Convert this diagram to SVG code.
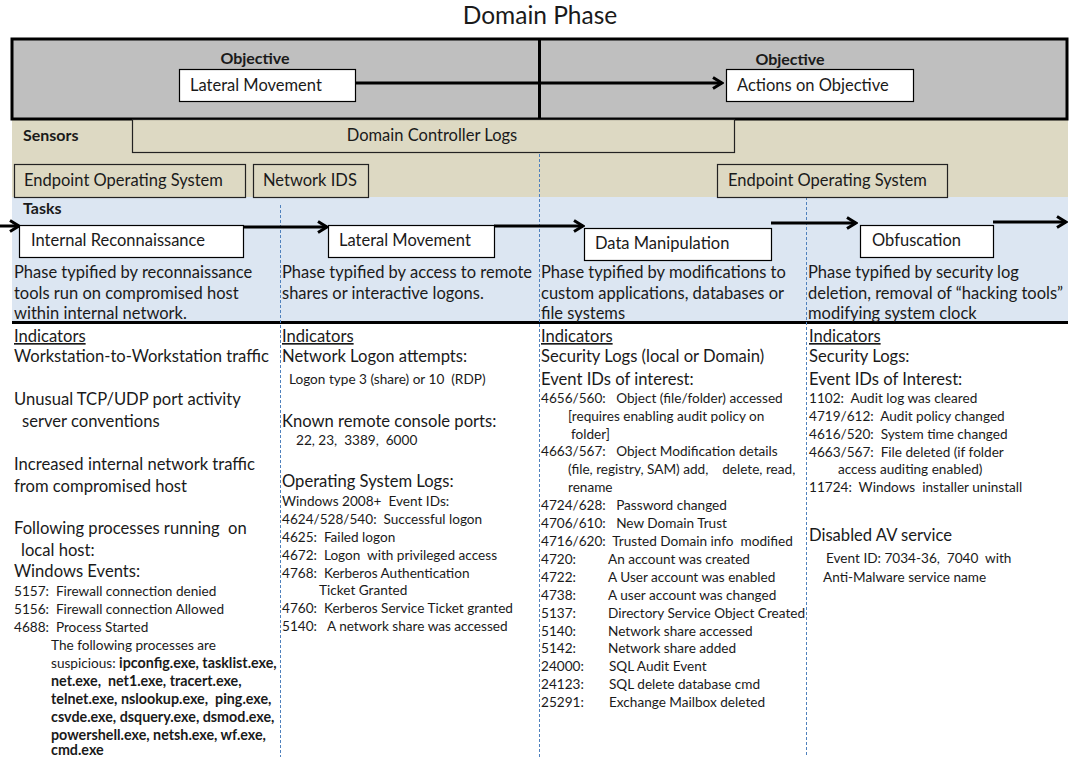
<svg xmlns="http://www.w3.org/2000/svg" width="1075" height="757" viewBox="0 0 1075 757">
  <style>
    text { font-family: Lato, "Open Sans", "Liberation Sans", sans-serif; fill: #1a1a1a; white-space: pre; }
    .title { font-size: 24.5px; }
    .hdr { font-size: 16px; font-weight: bold; }
    .box { fill: #ffffff; stroke: #000000; stroke-width: 1.2; }
    .sbox { fill: #ddd9c3; stroke: #222222; stroke-width: 1.2; }
    .boxtxt { font-size: 16.5px; }
    .desc { font-size: 16.5px; }
    .big { font-size: 16.6px; }
    .small { font-size: 13.6px; }
    .u { text-decoration: underline; }
    .b { font-weight: bold; font-size: 14.3px; }
    .flow { stroke: #000000; stroke-width: 3; fill: none; }
    .guide { stroke: #4f81bd; stroke-width: 1; stroke-dasharray: 3 2; fill: none; }
  </style>
  <defs>
    <marker id="chev" markerUnits="userSpaceOnUse" markerWidth="14" markerHeight="14" viewBox="0 0 14 14" refX="12" refY="7" orient="auto">
      <path d="M3,1.5 L12,7 L3,12.5" fill="none" stroke="#000000" stroke-width="3"/>
    </marker>
  </defs>

  <rect width="1075" height="757" fill="#ffffff"/>

  <!-- title -->
  <text class="title" x="540" y="24" text-anchor="middle">Domain Phase</text>

  <!-- bands -->
  <g id="bands">
    <rect x="12" y="119" width="1056" height="78" fill="#ddd9c3"/>
    <rect x="12" y="197" width="1056" height="125" fill="#dce6f2"/>
    <rect x="12" y="39" width="1055" height="80" fill="#bfbfbf" stroke="#000000" stroke-width="3"/>
    <line x1="539.5" y1="39" x2="539.5" y2="119" stroke="#000000" stroke-width="3"/>
    <line x1="12" y1="322.5" x2="1068" y2="322.5" stroke="#000000" stroke-width="3"/>
  </g>

  <!-- column guides -->
  <g id="guides">
    <line class="guide" x1="280.5" y1="205" x2="280.5" y2="757"/>
    <line class="guide" x1="539.5" y1="154" x2="539.5" y2="757"/>
    <line class="guide" x1="806.5" y1="197" x2="806.5" y2="757"/>
  </g>

  <!-- objectives -->
  <g id="objective-left">
    <text class="hdr" x="255" y="64" text-anchor="middle">Objective</text>
    <rect class="box" x="179.5" y="69.5" width="176" height="32"/>
    <text class="boxtxt" x="190" y="91">Lateral Movement</text>
  </g>
  <g id="objective-right">
    <text class="hdr" x="790" y="65" text-anchor="middle">Objective</text>
    <rect class="box" x="726.5" y="69.5" width="187" height="32"/>
    <text class="boxtxt" x="737" y="91">Actions on Objective</text>
  </g>

  <!-- sensors -->
  <g id="sensors">
    <text class="hdr" x="23" y="141">Sensors</text>
    <rect class="sbox" x="132.5" y="119.5" width="602" height="33"/>
    <text class="boxtxt" x="432" y="141" text-anchor="middle">Domain Controller Logs</text>
  </g>
  <g id="sensor-endpoint-left">
    <rect class="sbox" x="14.5" y="164.5" width="231" height="33"/>
    <text class="boxtxt" x="24" y="186">Endpoint Operating System</text>
  </g>
  <g id="sensor-nids">
    <rect class="sbox" x="253.5" y="164.5" width="115" height="33"/>
    <text class="boxtxt" x="263" y="186">Network IDS</text>
  </g>
  <g id="sensor-endpoint-right">
    <rect class="sbox" x="717.5" y="164.5" width="230" height="33"/>
    <text class="boxtxt" x="728" y="186">Endpoint Operating System</text>
  </g>

  <!-- connectors -->
  <g id="connectors">
    <line class="flow" x1="355" y1="83" x2="722" y2="83" marker-end="url(#chev)"/>
    <line class="flow" x1="0" y1="226" x2="19" y2="226" marker-end="url(#chev)"/>
    <line class="flow" x1="243" y1="227" x2="327" y2="227" marker-end="url(#chev)"/>
    <line class="flow" x1="494" y1="226" x2="583" y2="226" marker-end="url(#chev)"/>
    <line class="flow" x1="771" y1="223" x2="856" y2="223" marker-end="url(#chev)"/>
    <line class="flow" x1="993" y1="222" x2="1066" y2="222" marker-end="url(#chev)"/>
  </g>

  <!-- tasks -->
  <text class="hdr" x="23" y="214">Tasks</text>
  <g id="task-recon">
    <rect class="box" x="19.5" y="225.5" width="224" height="32"/>
    <text class="boxtxt" x="31" y="246">Internal Reconnaissance</text>
    <text class="desc" x="14" y="278">Phase typified by reconnaissance</text>
    <text class="desc" x="14" y="299">tools run on compromised host</text>
    <text class="desc" x="14" y="319">within internal network.</text>
  </g>
  <g id="task-lateral">
    <rect class="box" x="328.5" y="225.5" width="166" height="32"/>
    <text class="boxtxt" x="339" y="246">Lateral Movement</text>
    <text class="desc" x="282" y="278">Phase typified by access to remote</text>
    <text class="desc" x="282" y="299">shares or interactive logons.</text>
  </g>
  <g id="task-data">
    <rect class="box" x="584.5" y="228.5" width="187" height="32"/>
    <text class="boxtxt" x="595" y="249">Data Manipulation</text>
    <text class="desc" x="541" y="278">Phase typified by modifications to</text>
    <text class="desc" x="541" y="299">custom applications, databases or</text>
    <text class="desc" x="541" y="319">file systems</text>
  </g>
  <g id="task-obfuscation">
    <rect class="box" x="860.5" y="225.5" width="133" height="32"/>
    <text class="boxtxt" x="872" y="246">Obfuscation</text>
    <text class="desc" x="808" y="278">Phase typified by security log</text>
    <text class="desc" x="808" y="299">deletion, removal of “hacking tools”</text>
    <text class="desc" x="808" y="319">modifying system clock</text>
  </g>

  <!-- indicators: internal reconnaissance -->
  <g id="indicators-recon">
    <text class="big u" x="14" y="342">Indicators</text>
    <text class="big" x="14" y="362">Workstation-to-Workstation traffic</text>
    <text class="big" x="14" y="405">Unusual TCP/UDP port activity</text>
    <text class="big" x="22" y="427">server conventions</text>
    <text class="big" x="14" y="470">Increased internal network traffic</text>
    <text class="big" x="14" y="492">from compromised host</text>
    <text class="big" x="14" y="534">Following processes running  on</text>
    <text class="big" x="21" y="556">local host:</text>
    <text class="big" x="14" y="577">Windows Events:</text>
    <text class="small" x="14" y="596">5157:  Firewall connection denied</text>
    <text class="small" x="14" y="614">5156:  Firewall connection Allowed</text>
    <text class="small" x="14" y="632">4688:  Process Started</text>
    <text class="small" x="51" y="650">The following processes are</text>
    <text class="small" x="51" y="668">suspicious: <tspan class="b">ipconfig.exe, tasklist.exe,</tspan></text>
    <text class="small b" x="51" y="686">net.exe,  net1.exe, tracert.exe,</text>
    <text class="small b" x="51" y="704">telnet.exe, nslookup.exe,  ping.exe,</text>
    <text class="small b" x="51" y="722">csvde.exe, dsquery.exe, dsmod.exe,</text>
    <text class="small b" x="51" y="740">powershell.exe, netsh.exe, wf.exe,</text>
    <text class="small b" x="51" y="755">cmd.exe</text>
  </g>

  <!-- indicators: lateral movement -->
  <g id="indicators-lateral">
    <text class="big u" x="282" y="342">Indicators</text>
    <text class="big" x="282" y="362">Network Logon attempts:</text>
    <text class="small" x="289" y="384">Logon type 3 (share) or 10  (RDP)</text>
    <text class="big" x="282" y="427">Known remote console ports:</text>
    <text class="small" x="296" y="445">22, 23,  3389,  6000</text>
    <text class="big" x="282" y="487">Operating System Logs:</text>
    <text class="small" x="282" y="506">Windows 2008+  Event IDs:</text>
    <text class="small" x="282" y="524">4624/528/540:  Successful logon</text>
    <text class="small" x="282" y="542">4625:  Failed logon</text>
    <text class="small" x="282" y="560">4672:  Logon  with privileged access</text>
    <text class="small" x="282" y="578">4768:  Kerberos Authentication</text>
    <text class="small" x="319" y="595">Ticket Granted</text>
    <text class="small" x="282" y="613">4760:  Kerberos Service Ticket granted</text>
    <text class="small" x="282" y="631">5140:   A network share was accessed</text>
  </g>

  <!-- indicators: data manipulation -->
  <g id="indicators-data">
    <text class="big u" x="541" y="342">Indicators</text>
    <text class="big" x="541" y="362">Security Logs (local or Domain)</text>
    <text class="big" x="541" y="385">Event IDs of interest:</text>
    <text class="small" x="541" y="403">4656/560:   Object (file/folder) accessed</text>
    <text class="small" x="568" y="421">[requires enabling audit policy on</text>
    <text class="small" x="571" y="439">folder]</text>
    <text class="small" x="541" y="456">4663/567:   Object Modification details</text>
    <text class="small" x="568" y="474">(file, registry, SAM) add,    delete, read,</text>
    <text class="small" x="568" y="492">rename</text>
    <text class="small" x="541" y="510">4724/628:   Password changed</text>
    <text class="small" x="541" y="528">4706/610:   New Domain Trust</text>
    <text class="small" x="541" y="546">4716/620:  Trusted Domain info  modified</text>
    <text class="small" x="541" y="564">4720:</text><text class="small" x="608" y="564">An account was created</text>
    <text class="small" x="541" y="582">4722:</text><text class="small" x="608" y="582">A User account was enabled</text>
    <text class="small" x="541" y="600">4738:</text><text class="small" x="608" y="600">A user account was changed</text>
    <text class="small" x="541" y="618">5137:</text><text class="small" x="608" y="618">Directory Service Object Created</text>
    <text class="small" x="541" y="636">5140:</text><text class="small" x="608" y="636">Network share accessed</text>
    <text class="small" x="541" y="653">5142:</text><text class="small" x="608" y="653">Network share added</text>
    <text class="small" x="541" y="671">24000:</text><text class="small" x="609" y="671">SQL Audit Event</text>
    <text class="small" x="541" y="689">24123:</text><text class="small" x="609" y="689">SQL delete database cmd</text>
    <text class="small" x="541" y="707">25291:</text><text class="small" x="609" y="707">Exchange Mailbox deleted</text>
  </g>

  <!-- indicators: obfuscation -->
  <g id="indicators-obfuscation">
    <text class="big u" x="809" y="342">Indicators</text>
    <text class="big" x="809" y="362">Security Logs:</text>
    <text class="big" x="809" y="385">Event IDs of Interest:</text>
    <text class="small" x="809" y="403">1102:  Audit log was cleared</text>
    <text class="small" x="809" y="421">4719/612:  Audit policy changed</text>
    <text class="small" x="809" y="439">4616/520:  System time changed</text>
    <text class="small" x="809" y="457">4663/567:  File deleted (if folder</text>
    <text class="small" x="838" y="474">access auditing enabled)</text>
    <text class="small" x="809" y="492">11724:  Windows  installer uninstall</text>
    <text class="big" x="809" y="541">Disabled AV service</text>
    <text class="small" x="826" y="563">Event ID: 7034-36,  7040  with</text>
    <text class="small" x="823" y="582">Anti-Malware service name</text>
  </g>
</svg>
